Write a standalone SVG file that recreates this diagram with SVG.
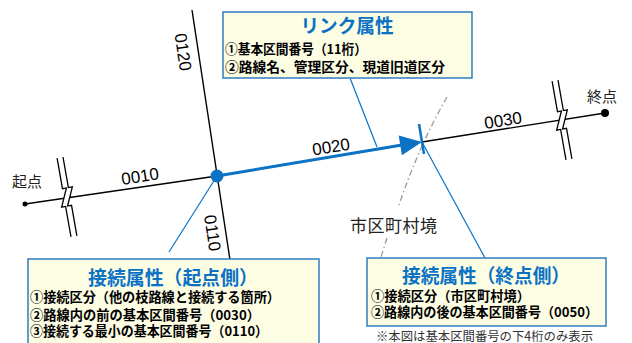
<svg xmlns="http://www.w3.org/2000/svg" xmlns:xlink="http://www.w3.org/1999/xlink" width="632" height="343" viewBox="0 0 632 343">
<style>
.box{fill:#fdfde4;stroke:#2e7cc4;stroke-width:1.5}
.title{font-family:"Noto Sans CJK JP","Noto Sans",sans-serif;font-weight:bold;font-size:19px;fill:#0b72c4;text-anchor:middle}
.body{font-family:"Noto Sans CJK JP","Noto Sans",sans-serif;font-weight:bold;font-size:13.5px;fill:#000}
.num{font-family:"Liberation Sans",Arial,sans-serif;font-size:17px;fill:#000;text-anchor:middle}
.lbl{font-family:"Noto Sans CJK JP","Noto Sans",sans-serif;font-size:15px;fill:#222}
.road{stroke:#000;stroke-width:1.4;fill:none}
.blue{stroke:#0b72c4;fill:none}
.lead{stroke:#0b72c4;stroke-width:1.2;fill:none}
.bound{stroke:#9a9a9a;stroke-width:1.3;fill:none;stroke-dasharray:6 3 1.5 3}
</style>
<defs>
<g id="brk">
<path d="M-3,-40 V-9 L1,-9 L-7,9 L-3,9 V40 L3,40 V9 L-1,9 L7,-9 L3,-9 V-40 Z" fill="#fff" stroke="none"/>
<path d="M-3,-40 V-9 L1,-9 L-7,9 L-3,9 V40" fill="none" stroke="#000" stroke-width="1.3"/>
<path d="M3,-40 V-9 L7,-9 L-1,9 L3,9 V40" fill="none" stroke="#000" stroke-width="1.3"/>
</g>
</defs>
<rect width="632" height="343" fill="#fff"/>
<g id="connectors">
<path class="bound" d="M447,97 Q418,148 399,205"/>
<path class="bound" d="M387,238 L381,257"/>
<line class="road" x1="192" y1="10" x2="230" y2="260"/>
<line class="road" x1="25" y1="204" x2="217" y2="176"/>
<line class="road" x1="422" y1="142" x2="605" y2="113"/>
<use xlink:href="#brk" href="#brk" transform="translate(67,197) rotate(-10)"/>
<use xlink:href="#brk" href="#brk" transform="translate(562,120) rotate(-10)"/>
<line class="blue" stroke-width="3" x1="217" y1="176" x2="402" y2="145"/>
<polygon points="422,142 398.7,135.5 401.9,155.3" fill="#0b72c4"/>
<line class="blue" stroke-width="2.5" x1="419" y1="124" x2="424" y2="154"/>
<line class="lead" x1="350" y1="78" x2="377" y2="147"/>
<line class="lead" x1="217" y1="176" x2="169" y2="252"/>
<line class="lead" x1="422" y1="142" x2="485" y2="258"/>
</g>
<g id="points">
<circle cx="25" cy="204" r="2.5" fill="#000"/>
<circle cx="605" cy="113" r="4" fill="#000"/>
<circle cx="217" cy="176" r="6.5" fill="#0b72c4"/>
</g>
<g id="road-labels">
<text class="num" transform="translate(141,182) rotate(-8.8)">0010</text>
<text class="num" transform="translate(332,152.5) rotate(-9)">0020</text>
<text class="num" transform="translate(504,126) rotate(-9)">0030</text>
<text class="num" transform="translate(177.3,52.9) rotate(81.5)">0120</text>
<text class="num" transform="translate(206.8,233.9) rotate(81.5)">0110</text>
<text class="lbl" x="12" y="186.5">起点</text>
<text class="lbl" x="587" y="101.5">終点</text>
<text class="lbl" x="350" y="232" style="font-size:17px" textLength="87" lengthAdjust="spacing">市区町村境</text>
</g>
<g id="link-attr">
<rect class="box" x="223" y="12" width="249" height="66"/>
<text class="title" x="347" y="33" textLength="93" lengthAdjust="spacingAndGlyphs">リンク属性</text>
<text class="body" x="225" y="53.5" textLength="142" lengthAdjust="spacingAndGlyphs">①基本区間番号（11桁）</text>
<text class="body" x="225" y="71.5" textLength="220" lengthAdjust="spacingAndGlyphs">②路線名、管理区分、現道旧道区分</text>
</g>
<g id="start-attr">
<rect class="box" x="28" y="259" width="291" height="95"/>
<text class="title" x="173" y="285" textLength="170" lengthAdjust="spacingAndGlyphs">接続属性（起点側）</text>
<text class="body" x="30" y="301.5" textLength="250" lengthAdjust="spacingAndGlyphs">①接続区分（他の枝路線と接続する箇所）</text>
<text class="body" x="30" y="319.5" textLength="230" lengthAdjust="spacingAndGlyphs">②路線内の前の基本区間番号（0030）</text>
<text class="body" x="30" y="335.5" textLength="238" lengthAdjust="spacingAndGlyphs">③接続する最小の基本区間番号（0110）</text>
</g>
<g id="end-attr">
<rect class="box" x="367" y="258" width="239" height="68"/>
<text class="title" x="486" y="283" textLength="168" lengthAdjust="spacingAndGlyphs">接続属性（終点側）</text>
<text class="body" x="371" y="300.5" textLength="159" lengthAdjust="spacingAndGlyphs">①接続区分（市区町村境）</text>
<text class="body" x="371" y="316.5" textLength="227" lengthAdjust="spacingAndGlyphs">②路線内の後の基本区間番号（0050）</text>
</g>
<g id="note">
<text x="376" y="340.5" font-family="'Noto Sans CJK JP','Noto Sans',sans-serif" font-size="12.5" fill="#333" textLength="217" lengthAdjust="spacingAndGlyphs">※本図は基本区間番号の下4桁のみ表示</text>
</g>
</svg>
